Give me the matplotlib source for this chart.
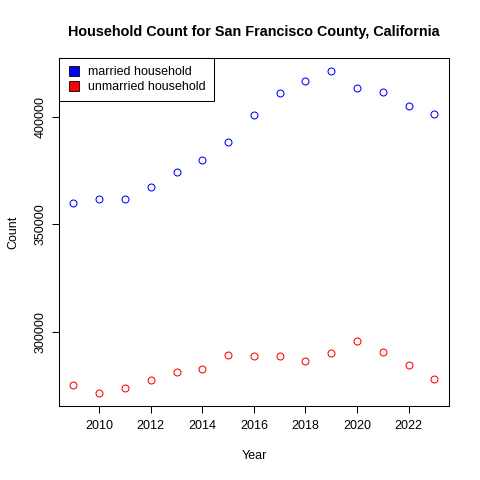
import matplotlib
matplotlib.use("Agg")
import matplotlib.pyplot as plt
from matplotlib.lines import Line2D

plt.rcParams['font.family'] = ['Liberation Sans', 'DejaVu Sans']

years = [2009, 2010, 2011, 2012, 2013, 2014, 2015, 2016,
         2017, 2018, 2019, 2020, 2021, 2022, 2023]
married = [360100, 361650, 361650, 367570, 374230, 379960, 388210, 400790,
           411370, 416960, 421440, 413700, 411840, 405130, 401580]
unmarried = [275120, 271390, 273580, 277310, 281030, 282760, 288960, 288630,
             288820, 286490, 289890, 295620, 290680, 284300, 277770]
x_ticks = [2010, 2012, 2014, 2016, 2018, 2020, 2022]
y_ticks = [300000, 350000, 400000]

fig = plt.figure(figsize=(4.8, 4.8), dpi=100)
ax = fig.add_axes([0.123, 0.154, 0.812, 0.725])

ax.plot(years, married, 'o', mfc='none', mec='blue', ms=5, mew=0.75)
ax.plot(years, unmarried, 'o', mfc='none', mec='red', ms=5, mew=0.75)

# R style 4% padding
lo = min(min(married), min(unmarried))
hi = max(max(married), max(unmarried))
pad = (hi - lo) * 0.04
ax.set_ylim(lo - pad, hi + pad)
xpad = (years[-1] - years[0]) * 0.04
ax.set_xlim(years[0] - xpad, years[-1] + xpad)

ax.set_xticks(x_ticks)
ax.set_yticks(y_ticks)
ax.set_yticklabels([str(v) for v in y_ticks], rotation=90, va='center')
ax.tick_params(direction='out', length=5, width=0.75, labelsize=9, pad=5)
ax.tick_params(axis='y', pad=4)
for s in ax.spines.values():
    s.set_linewidth(0.75)

ax.set_title('Household Count for San Francisco County, California',
             fontsize=10.4, fontweight='bold', pad=16)
ax.set_xlabel('Year', fontsize=9, labelpad=13)
ax.set_ylabel('Count', fontsize=9, labelpad=11)

handles = [Line2D([], [], ls='none', marker='s', ms=6.5, mfc='blue', mec='black', mew=0.6),
           Line2D([], [], ls='none', marker='s', ms=6.5, mfc='red', mec='black', mew=0.6)]
leg = ax.legend(handles, ['married household', 'unmarried household'],
                loc='upper left', fontsize=9, borderaxespad=0, fancybox=False,
                edgecolor='black', framealpha=1, handlelength=1.1,
                handletextpad=0.55, borderpad=0.65, labelspacing=0.25)
leg.get_frame().set_linewidth(0.75)

fig.savefig('out.png', dpi=100)
